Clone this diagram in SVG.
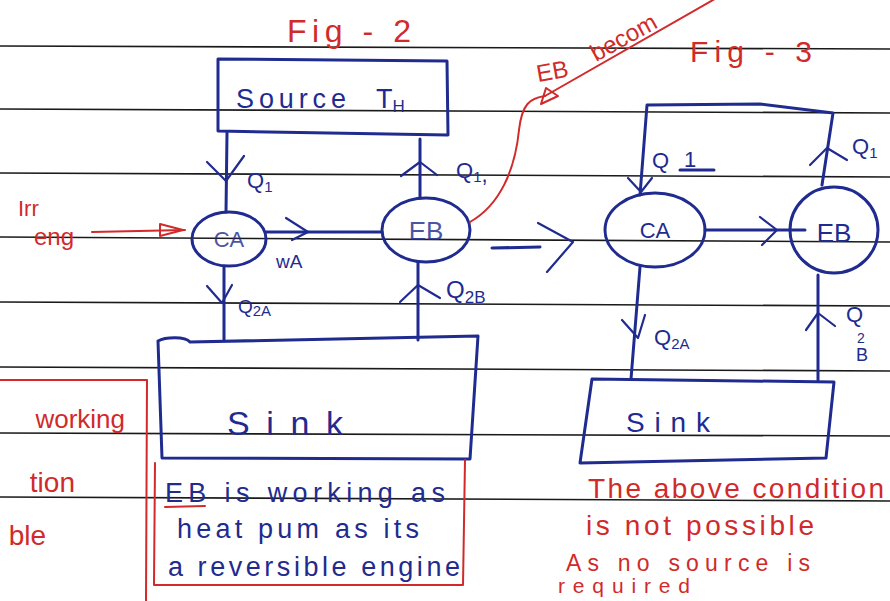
<svg xmlns="http://www.w3.org/2000/svg" width="890" height="601" viewBox="0 0 890 601">
<style>
.rule{stroke:#1a1a1a;stroke-width:1.6;fill:none}
.b{stroke:#1f2b8f;stroke-width:3;fill:none;stroke-linecap:round;stroke-linejoin:round}
.bt{stroke:#1f2b8f;stroke-width:2.2;fill:none;stroke-linecap:round;stroke-linejoin:round}
.r{stroke:#d12a2a;stroke-width:2;fill:none;stroke-linecap:round;stroke-linejoin:round}
.tb{fill:#1f2b8f;font-family:"Liberation Sans","DejaVu Sans",sans-serif}
.tr{fill:#d12a2a;font-family:"Liberation Sans","DejaVu Sans",sans-serif}
</style>
<rect width="890" height="601" fill="#ffffff"/>
<g id="ruled-lines">
<line class="rule" x1="0" y1="46" x2="890" y2="49"/>
<line class="rule" x1="0" y1="109" x2="890" y2="113"/>
<line class="rule" x1="0" y1="173" x2="890" y2="177"/>
<line class="rule" x1="0" y1="237" x2="890" y2="242"/>
<line class="rule" x1="0" y1="302" x2="890" y2="306"/>
<line class="rule" x1="0" y1="367" x2="890" y2="371"/>
<line class="rule" x1="0" y1="433" x2="890" y2="436"/>
<line class="rule" x1="0" y1="497" x2="890" y2="501"/>
</g>
<g id="titles">
<text class="tr" x="287" y="42" font-size="32" textLength="124" lengthAdjust="spacing">Fig - 2</text>
<text class="tr" x="690" y="62" font-size="30" textLength="122" lengthAdjust="spacing">Fig - 3</text>
</g>
<g id="left-note">
<path class="r" d="M0,380 L147,380 L146,601"/>
<text class="tr" x="125" y="428" font-size="26" text-anchor="end">working</text>
<text class="tr" x="75" y="492" font-size="28" text-anchor="end">tion</text>
<text class="tr" x="46" y="545" font-size="28" text-anchor="end">ble</text>
</g>
<g id="irr-eng">
<text class="tr" x="18" y="216" font-size="22">Irr</text>
<text class="tr" x="34" y="245" font-size="24">eng</text>
</g>
<g id="fig2-source">
<path class="b" d="M218,59 L447,61 L448,135 L218,131 Z"/>
<text class="tb" x="236" y="108" font-size="27" textLength="110" lengthAdjust="spacing">Source</text>
<text class="tb" x="376" y="108" font-size="27">T<tspan font-size="17" dy="4">H</tspan></text>
</g>
<g id="fig2-ea">
<ellipse class="b" cx="229" cy="239" rx="37" ry="27"/>
<text class="tb" x="229" y="247" font-size="22" text-anchor="middle" opacity="0.8">CA</text>
</g>
<g id="fig2-eb">
<ellipse class="b" cx="426" cy="230" rx="44" ry="32"/>
<text class="tb" x="426" y="240" font-size="26" text-anchor="middle" opacity="0.8">EB</text>
</g>
<g id="fig2-sink">
<path class="b" d="M158,341 C165,337 185,336 190,342 L478,336 L470,459 L162,458 L158,341"/>
<text class="tb" x="227" y="435" font-size="34" textLength="116" lengthAdjust="spacing">Sink</text>
</g>
<g id="fig2-note">
<path class="r" d="M155,463 L154,585 L463,585 L465,460"/>
<text class="tb" x="165" y="502" font-size="27" textLength="280" lengthAdjust="spacing">EB is working as</text>
<line class="r" x1="165" y1="507" x2="205" y2="506" stroke-width="2.5"/>
<text class="tb" x="177" y="538" font-size="27" textLength="242" lengthAdjust="spacing">heat pum as its</text>
<text class="tb" x="168" y="576" font-size="27" textLength="292" lengthAdjust="spacing">a reversible engine</text>
</g>
<g id="fig3-ea">
<ellipse class="b" cx="655" cy="230" rx="50" ry="37"/>
<text class="tb" x="655" y="238" font-size="22" text-anchor="middle">CA</text>
</g>
<g id="fig3-eb">
<ellipse class="b" cx="834" cy="230" rx="44" ry="43"/>
<text class="tb" x="834" y="242" font-size="26" text-anchor="middle">EB</text>
</g>
<g id="fig3-sink">
<path class="b" d="M592,379 L834,382 L826,458 L580,463 Z"/>
<text class="tb" x="626" y="432" font-size="28" textLength="84" lengthAdjust="spacing">Sink</text>
</g>
<g id="fig3-note">
<text class="tr" x="588" y="498" font-size="28" textLength="296" lengthAdjust="spacing">The above condition</text>
<text class="tr" x="586" y="535" font-size="28" textLength="228" lengthAdjust="spacing">is not possible</text>
<text class="tr" x="566" y="571" font-size="23" textLength="244" lengthAdjust="spacing">As no source is</text>
<text class="tr" x="558" y="593" font-size="21" textLength="132" lengthAdjust="spacing">required</text>
</g>
<g id="connectors">
<path class="r" d="M92,232 L185,230"/>
<path class="r" d="M160,224 L183,230 L160,236 Z"/>
<path class="b" d="M227,133 L226,212"/>
<path class="bt" d="M207,162 L226,181 L244,156"/>
<text class="tb" x="247" y="188" font-size="22">Q<tspan font-size="15" dy="4">1</tspan></text>
<path class="b" d="M420,139 L420,198"/>
<path class="bt" d="M401,176 L420,162 L437,175"/>
<text class="tb" x="456" y="178" font-size="22">Q<tspan font-size="15" dy="4">1</tspan>,</text>
<path class="b" d="M266,232 L382,232"/>
<path class="bt" d="M286,218 L308,232 L292,240"/>
<text class="tb" x="276" y="268" font-size="19">wA</text>
<path class="b" d="M224,266 L224,340"/>
<path class="bt" d="M207,286 L222,303 L232,285"/>
<text class="tb" x="238" y="313" font-size="19">Q<tspan font-size="15" dy="3">2A</tspan></text>
<path class="b" d="M418,262 L418,340"/>
<path class="bt" d="M400,302 L418,285 L440,298"/>
<text class="tb" x="446" y="298" font-size="24">Q<tspan font-size="17" dy="5">2B</tspan></text>
<path class="r" d="M470,222 C500,205 515,170 519,130 C522,104 530,98 545,96"/>
<path class="r" d="M545,96 L720,-4"/>
<path class="r" d="M541,104 L546,88 L558,96 Z" stroke-width="2.4"/>
<text class="tr" x="538" y="82" font-size="24" transform="rotate(-10 538 82)">EB</text>
<text class="tr" x="596" y="62" font-size="24" transform="rotate(-29 596 62)">becom</text>
<path class="b" d="M492,248 L540,247" stroke-width="3.5"/>
<path class="bt" d="M538,223 L573,242 L547,272"/>
<path class="b" d="M640,195 L647,105 L760,104 L833,113 L822,185"/>
<path class="bt" d="M628,178 L641,192 L652,178"/>
<text class="tb" x="652" y="168" font-size="22">Q</text>
<text class="tb" x="684" y="167" font-size="22">1</text>
<line class="b" x1="680" y1="170" x2="714" y2="170"/>
<path class="bt" d="M810,165 L827,148 L847,160"/>
<text class="tb" x="852" y="154" font-size="22">Q<tspan font-size="15" dy="4">1</tspan></text>
<path class="b" d="M705,230 L805,230"/>
<path class="bt" d="M760,217 L777,230 L762,245"/>
<path class="b" d="M640,267 L631,379"/>
<path class="bt" d="M622,320 L638,338 L645,315"/>
<text class="tb" x="654" y="345" font-size="22">Q<tspan font-size="15" dy="4">2A</tspan></text>
<path class="b" d="M818,275 L818,380"/>
<path class="bt" d="M806,330 L818,313 L835,326"/>
<text class="tb" x="846" y="322" font-size="22">Q</text>
<text class="tb" x="857" y="343" font-size="14">2</text>
<text class="tb" x="856" y="361" font-size="18">B</text>
</g>
</svg>
